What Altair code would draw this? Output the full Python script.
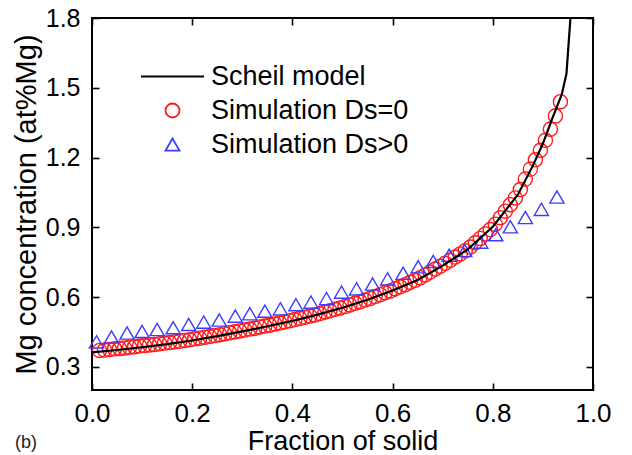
import altair as alt
import pandas as pd

FONT = "Liberation Sans"

series_names = ["Scheil model", "Simulation Ds=0", "Simulation Ds>0"]

# Scheil model curve (fraction of solid, Mg concentration)
scheil_fs = [0.0, 0.05, 0.10, 0.15, 0.20, 0.25, 0.30, 0.35, 0.40, 0.45, 0.50,
             0.55, 0.60, 0.65, 0.70, 0.75, 0.80, 0.85, 0.88, 0.90, 0.92,
             0.9375, 0.947, 0.951, 0.955]
scheil_c = [0.362, 0.372, 0.384, 0.397, 0.413, 0.432, 0.452, 0.474, 0.497, 0.524, 0.554,
            0.588, 0.628, 0.673, 0.735, 0.805, 0.902, 1.040, 1.165, 1.260, 1.375,
            1.470, 1.560, 1.680, 1.800]

# Simulation Ds=0 (red circles)
ds0_fs = [0.015, 0.025, 0.035, 0.045, 0.055, 0.065, 0.075, 0.085, 0.095, 0.105,
          0.115, 0.125, 0.135, 0.145, 0.155, 0.165, 0.175, 0.185, 0.195, 0.205,
          0.215, 0.225, 0.235, 0.245, 0.255, 0.265, 0.275, 0.285, 0.295, 0.305,
          0.315, 0.325, 0.335, 0.345, 0.355, 0.365, 0.375, 0.385, 0.395, 0.405,
          0.415, 0.425, 0.435, 0.445, 0.455, 0.465, 0.475, 0.485, 0.495, 0.505,
          0.515, 0.525, 0.535, 0.545, 0.555, 0.565, 0.575, 0.585, 0.595, 0.605,
          0.615, 0.625, 0.635, 0.645, 0.655, 0.665, 0.675, 0.685, 0.695, 0.705,
          0.715, 0.725, 0.735, 0.745, 0.755, 0.765, 0.775, 0.785, 0.795, 0.805,
          0.815, 0.825, 0.835, 0.845, 0.855, 0.865, 0.875, 0.885, 0.895, 0.905,
          0.915, 0.925, 0.935]
ds0_c = [0.370, 0.372, 0.374, 0.377, 0.379, 0.381, 0.384, 0.386, 0.389, 0.391,
         0.394, 0.396, 0.399, 0.402, 0.404, 0.407, 0.410, 0.413, 0.416, 0.420,
         0.423, 0.427, 0.430, 0.434, 0.438, 0.442, 0.446, 0.450, 0.454, 0.458,
         0.462, 0.466, 0.471, 0.475, 0.479, 0.484, 0.488, 0.493, 0.498, 0.503,
         0.508, 0.513, 0.518, 0.523, 0.529, 0.535, 0.541, 0.547, 0.553, 0.559,
         0.566, 0.573, 0.580, 0.587, 0.594, 0.602, 0.610, 0.618, 0.626, 0.635,
         0.644, 0.653, 0.663, 0.672, 0.683, 0.695, 0.707, 0.720, 0.732, 0.745,
         0.758, 0.772, 0.785, 0.799, 0.815, 0.833, 0.852, 0.871, 0.890, 0.913,
         0.941, 0.969, 0.997, 1.026, 1.062, 1.107, 1.150, 1.190, 1.231, 1.274,
         1.322, 1.379, 1.440]

# Simulation Ds>0 (blue triangles)
dsp_fs = [0.009, 0.039, 0.070, 0.100, 0.130, 0.162, 0.193, 0.223, 0.254, 0.286,
          0.315, 0.345, 0.376, 0.407, 0.437, 0.468, 0.498, 0.528, 0.560, 0.590,
          0.621, 0.651, 0.681, 0.713, 0.744, 0.776, 0.806, 0.835, 0.865, 0.897,
          0.928]
dsp_c = [0.407, 0.428, 0.445, 0.452, 0.460, 0.468, 0.482, 0.492, 0.501, 0.518,
         0.528, 0.539, 0.549, 0.567, 0.578, 0.593, 0.621, 0.635, 0.656, 0.678,
         0.702, 0.730, 0.753, 0.780, 0.800, 0.836, 0.868, 0.902, 0.942, 0.977,
         1.030]

x_ticks = [0.0, 0.2, 0.4, 0.6, 0.8, 1.0]
y_ticks = [0.3, 0.6, 0.9, 1.2, 1.5, 1.8]

line_df = pd.DataFrame({"fs": scheil_fs, "c": scheil_c})
pts_df = pd.concat([
    pd.DataFrame({"fs": ds0_fs, "c": ds0_c, "series": series_names[1]}),
    pd.DataFrame({"fs": dsp_fs, "c": dsp_c, "series": series_names[2]}),
], ignore_index=True)

x_scale = alt.Scale(domain=[0, 1], nice=False, zero=False)
y_scale = alt.Scale(domain=[0.2, 1.8], nice=False, zero=False)

color_scale = alt.Scale(domain=series_names, range=["#000000", "#ff1a1a", "#3c3cff"])
shape_scale = alt.Scale(domain=series_names, range=["M-4.5,0H4.5", "circle", "triangle-up"])

legend = alt.Legend(
    title=None, orient="none", legendX=67, legendY=45, padding=0,
    labelFont=FONT, labelFontSize=27, labelColor="black", labelLimit=400,
    labelOffset=25, rowPadding=6, symbolSize=196,
    symbolStrokeWidth=1.8,
)

common_axis = dict(domain=False, grid=False, ticks=True, tickSize=7, offset=-7,
                   tickColor="black", tickWidth=1.6, labelFont=FONT,
                   labelColor="black", labelFlush=False, labelOverlap=False,
                   titleFont=FONT, titleFontWeight="normal", titleColor="black")

bottom_axis = alt.Axis(orient="bottom", values=x_ticks, format=".1f", labelPadding=10,
                       labelFontSize=26,
                       title="Fraction of solid", titleFontSize=27, titlePadding=2,
                       **common_axis)
left_axis = alt.Axis(orient="left", values=y_ticks, format=".1f", labelPadding=12,
                     labelFontSize=25,
                     title="Mg concentration (at%Mg)", titleFontSize=29, titlePadding=4,
                     **common_axis)
top_axis = alt.Axis(orient="top", values=x_ticks, labels=False, title=None, **common_axis)
right_axis = alt.Axis(orient="right", values=y_ticks, labels=False, title=None, **common_axis)

points = alt.Chart(pts_df).mark_point(filled=False, strokeWidth=1.4, size=200, opacity=1).encode(
    x=alt.X("fs:Q", scale=x_scale, axis=top_axis),
    y=alt.Y("c:Q", scale=y_scale, axis=right_axis),
    color=alt.Color("series:N", scale=color_scale, legend=legend),
    shape=alt.Shape("series:N", scale=shape_scale, legend=legend),
)

line = alt.Chart(line_df).mark_line(color="black", strokeWidth=2.2).encode(
    x=alt.X("fs:Q", scale=x_scale, axis=bottom_axis),
    y=alt.Y("c:Q", scale=y_scale, axis=left_axis),
)

chart = alt.layer(points, line).resolve_axis(
    x="independent", y="independent"
).properties(
    width=501, height=372,
    padding={"left": 84, "top": 10, "right": 31, "bottom": 65},
    autosize=alt.AutoSizeParams(type="none"),
    title=alt.TitleParams("(b)", orient="bottom", anchor="start", frame="group",
                          font=FONT, fontSize=18, fontWeight="normal", color="#222222",
                          dx=-77, dy=-20, offset=0),
).configure_view(stroke="black", strokeWidth=2)

chart.save("out.html", embed_options={"renderer": "svg", "actions": False})
